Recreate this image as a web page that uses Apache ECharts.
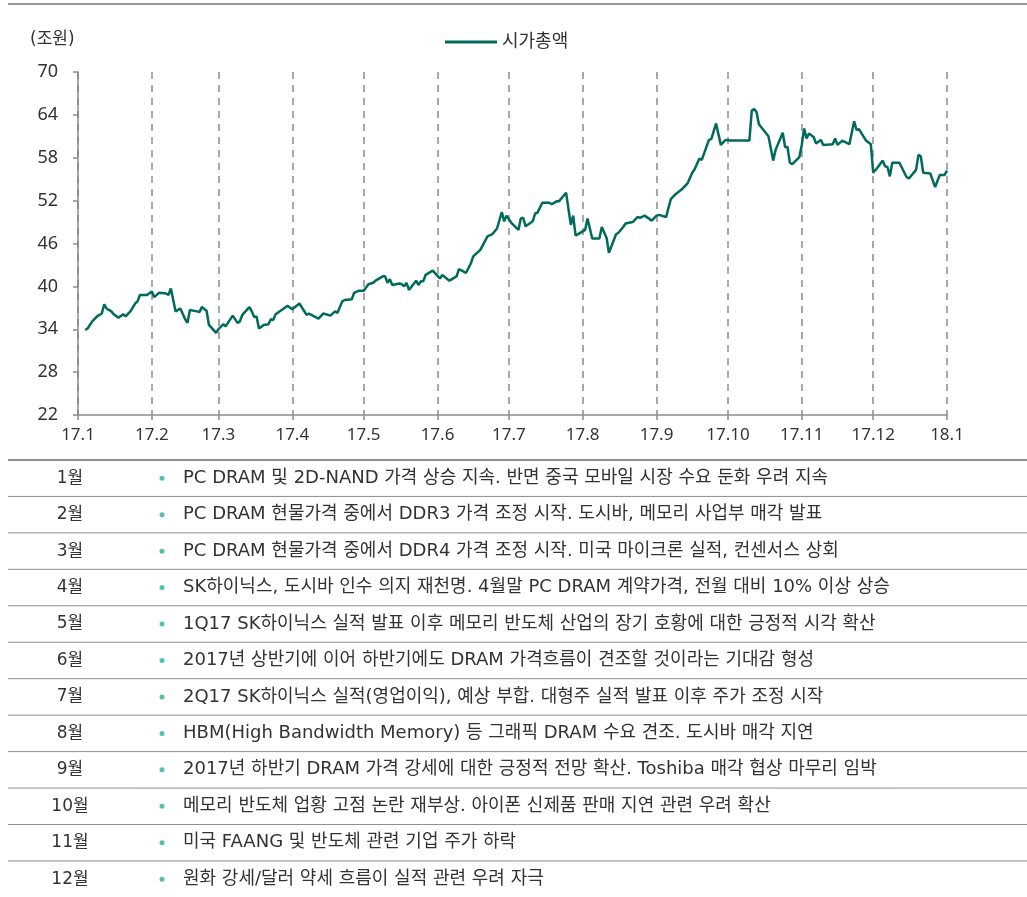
<!DOCTYPE html>
<html>
<head>
<meta charset="utf-8">
<script src="https://cdn.jsdelivr.net/npm/echarts@6/dist/echarts.min.js"></script>
<style>
  html, body { margin: 0; padding: 0; background: #fff; }
  #main { width: 1027px; height: 897px; }
</style>
</head>
<body>
<div id="main"></div>
<script>
var dates = [
  '2017-01-04','2017-01-05','2017-01-07','2017-01-09','2017-01-11','2017-01-12','2017-01-13','2017-01-15','2017-01-16','2017-01-18',
  '2017-01-20','2017-01-21','2017-01-23','2017-01-25','2017-01-26','2017-01-27','2017-01-30','2017-02-01','2017-02-02','2017-02-04',
  '2017-02-07','2017-02-08','2017-02-09','2017-02-11','2017-02-13','2017-02-15','2017-02-16','2017-02-17','2017-02-20','2017-02-21',
  '2017-02-22','2017-02-24','2017-02-25','2017-02-28','2017-03-01','2017-03-03','2017-03-04','2017-03-07','2017-03-09','2017-03-10',
  '2017-03-11','2017-03-14','2017-03-15','2017-03-16','2017-03-17','2017-03-18','2017-03-20','2017-03-22','2017-03-23','2017-03-24',
  '2017-03-25','2017-03-28','2017-03-30','2017-04-01','2017-04-04','2017-04-07','2017-04-08','2017-04-12','2017-04-14','2017-04-17',
  '2017-04-19','2017-04-20','2017-04-22','2017-04-23','2017-04-26','2017-04-27','2017-04-29','2017-05-01','2017-05-03','2017-05-05',
  '2017-05-06','2017-05-09','2017-05-10','2017-05-11','2017-05-12','2017-05-13','2017-05-16','2017-05-17','2017-05-18','2017-05-19',
  '2017-05-20','2017-05-23','2017-05-24','2017-05-25','2017-05-26','2017-05-27','2017-05-30','2017-06-02','2017-06-03','2017-06-06',
  '2017-06-09','2017-06-10','2017-06-13','2017-06-15','2017-06-16','2017-06-19','2017-06-22','2017-06-24','2017-06-26','2017-06-28',
  '2017-06-29','2017-06-30','2017-07-02','2017-07-05','2017-07-06','2017-07-07','2017-07-08','2017-07-11','2017-07-12','2017-07-13',
  '2017-07-15','2017-07-18','2017-07-19','2017-07-21','2017-07-22','2017-07-25','2017-07-27','2017-07-28','2017-07-29','2017-08-02',
  '2017-08-03','2017-08-05','2017-08-08','2017-08-09','2017-08-11','2017-08-12','2017-08-15','2017-08-16','2017-08-18','2017-08-19',
  '2017-08-22','2017-08-24','2017-08-25','2017-08-27','2017-08-30','2017-09-01','2017-09-02','2017-09-05','2017-09-07','2017-09-09',
  '2017-09-12','2017-09-14','2017-09-16','2017-09-17','2017-09-19','2017-09-20','2017-09-23','2017-09-24','2017-09-26','2017-09-28',
  '2017-09-30','2017-10-02','2017-10-10','2017-10-11','2017-10-12','2017-10-13','2017-10-14','2017-10-18','2017-10-20','2017-10-21',
  '2017-10-24','2017-10-25','2017-10-26','2017-10-27','2017-10-28','2017-10-31','2017-11-01','2017-11-02','2017-11-03','2017-11-04',
  '2017-11-06','2017-11-07','2017-11-09','2017-11-10','2017-11-14','2017-11-15','2017-11-16','2017-11-18','2017-11-21','2017-11-23',
  '2017-11-24','2017-11-25','2017-11-28','2017-11-30','2017-12-01','2017-12-03','2017-12-05','2017-12-06','2017-12-07','2017-12-08',
  '2017-12-09','2017-12-12','2017-12-15','2017-12-16','2017-12-19','2017-12-20','2017-12-21','2017-12-22','2017-12-25','2017-12-27',
  '2017-12-29','2017-12-31','2018-01-01'
];
var values = [
  33.9, 34.1, 35.1, 35.8, 36.2, 37.5, 36.9, 36.5, 36.1, 35.6,
  36.1, 35.8, 36.5, 37.6, 37.9, 38.8, 38.8, 39.3, 38.5, 39.1,
  39.0, 38.8, 39.7, 36.5, 36.9, 35.4, 34.9, 36.7, 36.5, 36.4,
  37.1, 36.6, 34.6, 33.5, 34.0, 34.7, 34.4, 35.9, 34.9, 35.1,
  36.0, 37.1, 36.5, 35.7, 35.8, 34.1, 34.6, 34.7, 35.4, 35.3,
  36.1, 36.8, 37.3, 36.8, 37.6, 36.0, 36.2, 35.5, 36.2, 35.9,
  36.5, 36.3, 37.9, 38.1, 38.2, 39.1, 39.4, 39.4, 40.3, 40.5,
  40.8, 41.4, 41.4, 40.5, 41.0, 40.2, 40.4, 40.3, 40.0, 40.5,
  39.5, 40.8, 40.2, 40.7, 40.7, 41.6, 42.2, 41.1, 41.6, 40.8,
  41.4, 42.4, 41.9, 43.2, 44.2, 45.1, 47.0, 47.3, 48.1, 50.4,
  49.1, 49.9, 48.9, 47.9, 49.5, 49.6, 48.4, 49.1, 50.2, 50.3,
  51.7, 51.7, 51.5, 51.9, 51.9, 53.1, 48.6, 49.9, 47.1, 47.9,
  49.5, 46.7, 46.7, 48.3, 46.8, 44.7, 47.3, 47.5, 48.3, 48.8,
  49.0, 49.7, 49.6, 49.9, 49.2, 49.9, 50.0, 49.7, 52.2, 52.9,
  53.7, 54.4, 55.9, 56.4, 57.9, 57.7, 60.5, 60.6, 62.8, 59.8,
  60.5, 60.4, 60.4, 64.6, 64.8, 64.4, 62.7, 61.0, 57.6, 59.1,
  61.5, 59.5, 59.5, 57.3, 57.1, 58.1, 59.8, 62.1, 60.7, 61.4,
  60.9, 60.0, 60.5, 59.8, 59.9, 60.7, 59.8, 60.4, 59.9, 63.1,
  61.9, 62.0, 60.4, 59.9, 55.9, 56.7, 57.6, 56.8, 56.7, 55.4,
  57.3, 57.3, 55.3, 55.1, 56.3, 58.4, 58.2, 55.9, 55.8, 53.9,
  55.6, 55.6, 56.2
];

var months = ['1월', '2월', '3월', '4월', '5월', '6월', '7월', '8월', '9월', '10월', '11월', '12월'];
var notes = [
  'PC DRAM 및 2D-NAND 가격 상승 지속. 반면 중국 모바일 시장 수요 둔화 우려 지속',
  'PC DRAM 현물가격 중에서 DDR3 가격 조정 시작. 도시바, 메모리 사업부 매각 발표',
  'PC DRAM 현물가격 중에서 DDR4 가격 조정 시작. 미국 마이크론 실적, 컨센서스 상회',
  'SK하이닉스, 도시바 인수 의지 재천명. 4월말 PC DRAM 계약가격, 전월 대비 10% 이상 상승',
  '1Q17 SK하이닉스 실적 발표 이후 메모리 반도체 산업의 장기 호황에 대한 긍정적 시각 확산',
  '2017년 상반기에 이어 하반기에도 DRAM 가격흐름이 견조할 것이라는 기대감 형성',
  '2Q17 SK하이닉스 실적(영업이익), 예상 부합. 대형주 실적 발표 이후 주가 조정 시작',
  'HBM(High Bandwidth Memory) 등 그래픽 DRAM 수요 견조. 도시바 매각 지연',
  '2017년 하반기 DRAM 가격 강세에 대한 긍정적 전망 확산. Toshiba 매각 협상 마무리 임박',
  '메모리 반도체 업황 고점 논란 재부상. 아이폰 신제품 판매 지연 관련 우려 확산',
  '미국 FAANG 및 반도체 관련 기업 주가 하락',
  '원화 강세/달러 약세 흐름이 실적 관련 우려 자극'
];

var font = '"Noto Sans", "Noto Sans CJK KR", sans-serif';
var tableFont = '"DejaVu Sans", "Noto Sans CJK KR", sans-serif';
var textColor = '#333';
var teal = '#006b5d';

var myChart = echarts.init(document.getElementById('main'));

// 표 (월별 이슈)
var graphics = [
  { type: 'line', shape: { x1: 8, y1: 4, x2: 1027, y2: 4 }, style: { stroke: '#999', lineWidth: 2 } },
  { type: 'text', x: 30, y: 40, style: { text: '(조원)', font: '17px ' + tableFont, fill: textColor, verticalAlign: 'middle' } }
];
var rowTop = 460, rowH = 36.45;
for (var i = 0; i < months.length; i++) {
  var y0 = rowTop + rowH * i;
  graphics.push({
    type: 'line',
    shape: { x1: 8, y1: y0, x2: 1027, y2: y0 },
    style: { stroke: '#8f8f8f', lineWidth: i === 0 ? 2 : 1 }
  });
  graphics.push({
    type: 'text', x: 70, y: y0 + rowH / 2,
    style: { text: months[i], font: '17px ' + tableFont, fill: textColor, align: 'center', verticalAlign: 'middle' }
  });
  graphics.push({
    type: 'circle', shape: { cx: 162, cy: y0 + rowH / 2, r: 2.5 },
    style: { fill: '#52bfb0' }
  });
  graphics.push({
    type: 'text', x: 183, y: y0 + rowH / 2,
    style: { text: notes[i], font: '18px ' + tableFont, fill: textColor, align: 'left', verticalAlign: 'middle' }
  });
}

var option = {
  animation: false,
  backgroundColor: '#fff',
  legend: {
    data: ['시가총액'],
    left: 440,
    top: 28,
    icon: 'rect',
    itemWidth: 52,
    itemHeight: 3,
    textStyle: { fontSize: 18, color: textColor, fontFamily: font }
  },
  grid: { left: 78, right: 80, top: 72, bottom: 482 },
  xAxis: {
    type: 'time',
    min: '2017-01-01',
    max: '2018-01-01',
    splitNumber: 12,
    axisLine: { lineStyle: { color: '#8c8c8c', width: 1.5 } },
    axisTick: { show: true, length: 5, lineStyle: { color: '#8c8c8c', width: 1.5 } },
    axisLabel: {
      fontSize: 17, color: textColor, fontFamily: font, margin: 12,
      showMinLabel: true,
      showMaxLabel: true,
      formatter: function (val) {
        var d = new Date(val);
        return (d.getFullYear() % 100) + '.' + (d.getMonth() + 1);
      }
    },
    splitLine: { show: true, lineStyle: { color: '#8c8c8c', width: 1.5, type: [7, 6] } }
  },
  yAxis: {
    type: 'value',
    min: 22,
    max: 70,
    interval: 6,
    axisLine: { show: true, lineStyle: { color: '#8c8c8c', width: 1.5 } },
    axisTick: { show: true, length: 5, lineStyle: { color: '#8c8c8c', width: 1.5 } },
    axisLabel: { fontSize: 18, color: textColor, fontFamily: font, margin: 20 },
    splitLine: { show: false }
  },
  series: [
    {
      name: '시가총액',
      type: 'line',
      symbol: 'none',
      lineStyle: { color: teal, width: 2.5 },
      itemStyle: { color: teal },
      data: dates.map(function (d, i) { return [d, values[i]]; })
    }
  ],
  graphic: graphics
};

myChart.setOption(option);
</script>
</body>
</html>
